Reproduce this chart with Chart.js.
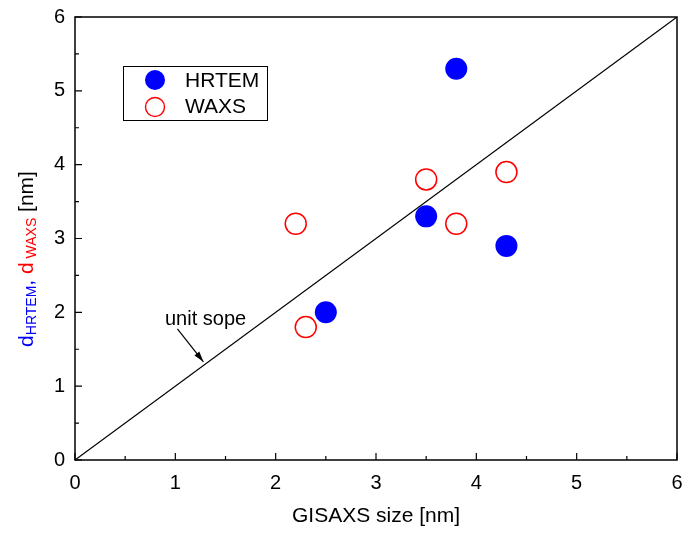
<!DOCTYPE html>
<html>
<head>
<meta charset="utf-8">
<script src="https://cdn.jsdelivr.net/npm/chart.js@4"></script>
<style>
  body { margin: 0; background: #fff; }
  #wrap { width: 685px; height: 536px; }
</style>
</head>
<body>
<div id="wrap"><canvas id="sizeChart" width="685" height="536"></canvas></div>
<script>
const hrtemX = [3.8, 3.5, 2.5, 4.3];
const hrtemY = [5.3, 3.3, 2.0, 2.9];
const waxsX = [2.2, 3.5, 3.8, 4.3, 2.3];
const waxsY = [3.2, 3.8, 3.2, 3.9, 1.8];
const unitLine = [0, 6];
const xTicks = [0, 1, 2, 3, 4, 5, 6];
const yTicks = [0, 1, 2, 3, 4, 5, 6];

const FONT = "'Liberation Sans', Arial, sans-serif";

function toPoints(xs, ys) {
  return xs.map((x, i) => ({ x: x, y: ys[i] }));
}

// frame, inward ticks, legend, axis titles, annotation
const decorations = {
  id: "decorations",
  afterDraw(chart) {
    const ctx = chart.ctx;
    const a = chart.chartArea;
    const xs = chart.scales.x;
    const ys = chart.scales.y;
    ctx.save();

    // frame
    ctx.strokeStyle = "#000";
    ctx.lineWidth = 1.5;
    ctx.strokeRect(a.left, a.top, a.right - a.left, a.bottom - a.top);

    // ticks pointing inward, bottom and left only
    ctx.lineWidth = 1.2;
    ctx.beginPath();
    for (let v = 0; v <= 6; v += 0.5) {
      const len = Number.isInteger(v) ? 7 : 4;
      const px = xs.getPixelForValue(v);
      ctx.moveTo(px, a.bottom);
      ctx.lineTo(px, a.bottom - len);
      const py = ys.getPixelForValue(v);
      ctx.moveTo(a.left, py);
      ctx.lineTo(a.left + len, py);
    }
    ctx.stroke();

    // legend
    ctx.lineWidth = 1;
    ctx.strokeStyle = "#000";
    ctx.fillStyle = "#fff";
    ctx.fillRect(123.5, 66.5, 144, 54);
    ctx.strokeRect(123.5, 66.5, 144, 54);
    ctx.fillStyle = "#0000ff";
    ctx.beginPath();
    ctx.arc(155, 80, 10, 0, Math.PI * 2);
    ctx.fill();
    ctx.strokeStyle = "#ff0000";
    ctx.lineWidth = 1.4;
    ctx.beginPath();
    ctx.arc(155, 107, 9.5, 0, Math.PI * 2);
    ctx.stroke();
    ctx.fillStyle = "#000";
    ctx.font = "21px " + FONT;
    ctx.textBaseline = "middle";
    ctx.textAlign = "left";
    ctx.fillText("HRTEM", 185, 81);
    ctx.fillText("WAXS", 185, 107);

    // x title
    ctx.font = "21px " + FONT;
    ctx.textAlign = "center";
    ctx.textBaseline = "alphabetic";
    ctx.fillText("GISAXS size [nm]", (a.left + a.right) / 2, 522);

    // y title with coloured parts and subscripts
    const parts = [
      { t: "d", c: "#0000ff", s: 21, dy: 0 },
      { t: "HRTEM", c: "#0000ff", s: 14, dy: 3 },
      { t: ", ", c: "#0000ff", s: 21, dy: 0 },
      { t: "d", c: "#ff0000", s: 21, dy: 0 },
      { t: " WAXS", c: "#ff0000", s: 14, dy: 3 },
      { t: " [nm]", c: "#000", s: 21, dy: 0 },
    ];
    let total = 0;
    parts.forEach((p) => {
      ctx.font = p.s + "px " + FONT;
      p.w = ctx.measureText(p.t).width;
      total += p.w;
    });
    ctx.translate(33, 259);
    ctx.rotate(-Math.PI / 2);
    ctx.textAlign = "left";
    let cx = -total / 2;
    parts.forEach((p) => {
      ctx.font = p.s + "px " + FONT;
      ctx.fillStyle = p.c;
      ctx.fillText(p.t, cx, p.dy);
      cx += p.w;
    });
    ctx.setTransform(1, 0, 0, 1, 0, 0);

    // "unit sope" annotation with arrow
    const tipX = xs.getPixelForValue(1.28);
    const tipY = ys.getPixelForValue(1.33);
    const tailX = tipX - 26;
    const tailY = tipY - 33;
    ctx.fillStyle = "#000";
    ctx.font = "20px " + FONT;
    ctx.textAlign = "left";
    ctx.fillText("unit sope", 165, 325);
    ctx.strokeStyle = "#000";
    ctx.lineWidth = 1.2;
    ctx.beginPath();
    ctx.moveTo(tailX, tailY);
    ctx.lineTo(tipX, tipY);
    ctx.stroke();
    const ang = Math.atan2(tipY - tailY, tipX - tailX);
    ctx.beginPath();
    ctx.moveTo(tipX, tipY);
    ctx.lineTo(tipX - 11 * Math.cos(ang - 0.28), tipY - 11 * Math.sin(ang - 0.28));
    ctx.lineTo(tipX - 11 * Math.cos(ang + 0.28), tipY - 11 * Math.sin(ang + 0.28));
    ctx.closePath();
    ctx.fill();

    ctx.restore();
  },
};

const ctx = document.getElementById("sizeChart").getContext("2d");
const sizeChart = new Chart(ctx, {
  type: "scatter",
  data: {
    datasets: [
      {
        type: "line",
        label: "unit slope",
        data: toPoints(unitLine, unitLine),
        borderColor: "#000",
        borderWidth: 1.2,
        pointRadius: 0,
        fill: false,
      },
      {
        label: "HRTEM",
        data: toPoints(hrtemX, hrtemY),
        backgroundColor: "#0000ff",
        borderColor: "#0000ff",
        borderWidth: 0,
        pointRadius: 11,
      },
      {
        label: "WAXS",
        data: toPoints(waxsX, waxsY),
        backgroundColor: "rgba(255,255,255,0)",
        borderColor: "#ff0000",
        borderWidth: 1.5,
        pointRadius: 10.5,
      },
    ],
  },
  options: {
    responsive: false,
    animation: false,
    devicePixelRatio: 1,
    layout: { autoPadding: false, padding: { left: 0, top: 17, right: 8, bottom: 0 } },
    plugins: { legend: { display: false }, tooltip: { enabled: false } },
    scales: {
      x: {
        type: "linear",
        min: 0,
        max: 6,
        afterBuildTicks: (scale) => { scale.ticks = xTicks.map((v) => ({ value: v })); },
        afterFit: (scale) => {
          scale.height = 76;
          scale.paddingLeft = 0;
          scale.paddingRight = 0;
        },
        grid: { display: false, drawTicks: false },
        border: { display: false },
        ticks: { color: "#000", font: { size: 20, family: FONT }, padding: 11 },
      },
      y: {
        type: "linear",
        min: 0,
        max: 6,
        afterBuildTicks: (scale) => { scale.ticks = yTicks.map((v) => ({ value: v })); },
        afterFit: (scale) => {
          scale.width = 75;
          scale.paddingTop = 0;
          scale.paddingBottom = 0;
        },
        grid: { display: false, drawTicks: false },
        border: { display: false },
        ticks: { color: "#000", font: { size: 20, family: FONT }, padding: 10 },
      },
    },
  },
  plugins: [decorations],
});
</script>
</body>
</html>
